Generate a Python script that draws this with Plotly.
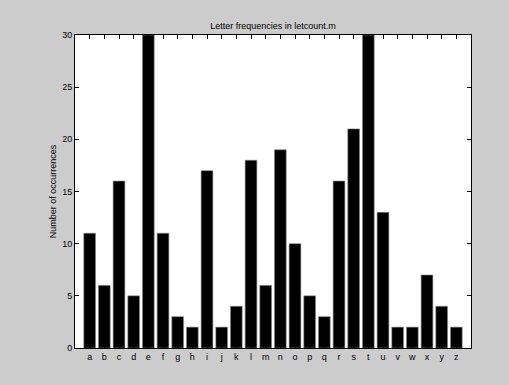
import plotly.graph_objects as go

letters = list("abcdefghijklmnopqrstuvwxyz")
counts = [11, 6, 16, 5, 30, 11, 3, 2, 17, 2, 4, 18, 6, 19, 10, 5, 3, 16, 21, 30, 13, 2, 2, 7, 4, 2]
positions = list(range(1, 27))
y_ticks = [0, 5, 10, 15, 20, 25, 30]

fig = go.Figure()
fig.add_trace(go.Bar(
    x=positions, y=counts, width=0.8,
    marker=dict(color="black", line=dict(width=0.6, color="#888888")),
    showlegend=False,
))

fig.update_layout(
    width=509, height=385,
    paper_bgcolor="#cccccc", plot_bgcolor="white",
    margin=dict(l=75, r=38, t=35, b=37, autoexpand=False),
    font=dict(family="Liberation Sans, Arial, sans-serif", size=9, color="black"),
    title=dict(text="Letter frequencies in letcount.m", x=0.5, xref="paper",
               y=1, yref="paper", yanchor="bottom", pad=dict(b=6),
               font=dict(size=9)),
    bargap=0.2,
)
fig.update_xaxes(
    range=[0, 27], tickvals=positions, ticktext=letters,
    ticks="inside", ticklen=4, tickcolor="black", tickwidth=1,
    showline=True, linecolor="black", linewidth=1, mirror="ticks",
    showgrid=False, zeroline=False,
)
fig.update_yaxes(
    range=[0, 30], tickvals=y_ticks,
    ticks="inside", ticklen=4, tickcolor="black", tickwidth=1,
    showline=True, linecolor="black", linewidth=1, mirror="ticks",
    showgrid=False, zeroline=False,
    title=dict(text="Number of occurrences", font=dict(size=9), standoff=4),
)

fig.write_html(
    "out.html",
    config={"displayModeBar": False},
    post_script="document.body.style.margin='0';document.body.style.background='#cccccc';",
)
